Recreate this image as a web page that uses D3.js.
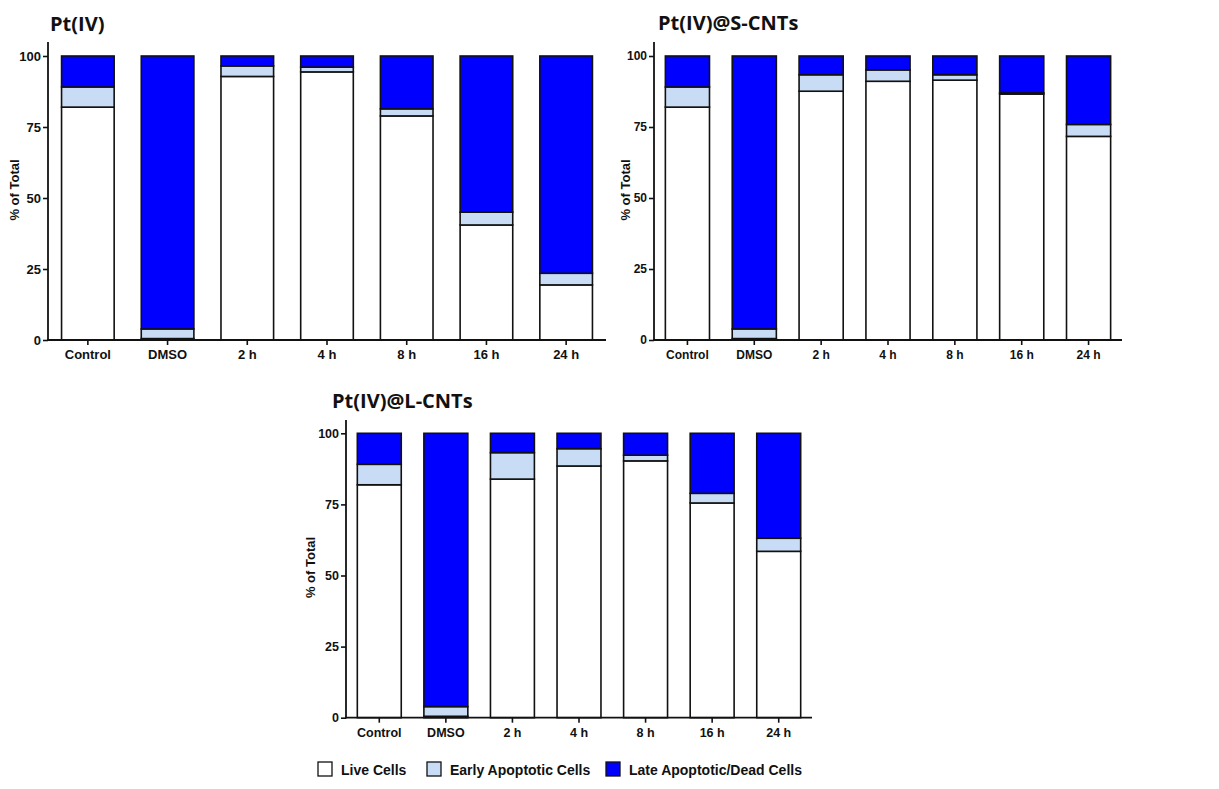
<!DOCTYPE html>
<html>
<head>
<meta charset="utf-8">
<script src="https://cdn.jsdelivr.net/npm/d3@7/dist/d3.min.js"></script>
<style>
  html, body { margin: 0; padding: 0; background: #fff; }
  svg { display: block; }
  .tick text { font-family: "Liberation Sans", Arial, sans-serif; font-weight: bold; fill: #111; }
</style>
</head>
<body>
<svg id="chart" width="1219" height="789"></svg>
<script>
// Treatment groups on the x axis
const categories = ["Control", "DMSO", "2 h", "4 h", "8 h", "16 h", "24 h"];
const seriesNames = ["Live Cells", "Early Apoptotic Cells", "Late Apoptotic/Dead Cells"];
const yTicks = [0, 25, 50, 75, 100];

// Pt(IV): % of total per population
const ptLive  = [82.0, 0.5, 92.8, 94.4, 78.9, 40.5, 19.4];
const ptEarly = [7.1, 3.4, 3.7, 1.7, 2.5, 4.5, 4.1];
const ptLate  = [10.9, 96.1, 3.5, 3.9, 18.6, 55.0, 76.5];

// Pt(IV)@S-CNTs
const sLive  = [82.0, 0.5, 87.6, 91.1, 91.5, 86.6, 71.7];
const sEarly = [7.1, 3.4, 5.8, 4.0, 1.9, 0.4, 4.2];
const sLate  = [10.9, 96.1, 6.6, 4.9, 6.6, 13.0, 24.1];

// Pt(IV)@L-CNTs
const lLive  = [81.9, 0.5, 83.9, 88.5, 90.3, 75.5, 58.5];
const lEarly = [7.2, 3.4, 9.3, 6.1, 2.0, 3.4, 4.6];
const lLate  = [10.9, 96.1, 6.8, 5.4, 7.7, 21.1, 36.9];

const colors = ["#ffffff", "#c8dcf5", "#0000ff"];
const keys = ["live", "early", "late"];

const svg = d3.select("#chart");

const panels = [
  { title: "Pt(IV)", live: ptLive, early: ptEarly, late: ptLate,
    x0: 48, x1: 606, y0: 340, y100: 56, axisTop: 42, tx: 50, ty: 31, fs: 13, ylx: 14 },
  { title: "Pt(IV)@S-CNTs", live: sLive, early: sEarly, late: sLate,
    x0: 654, x1: 1122, y0: 340, y100: 56, axisTop: 42, tx: 658, ty: 30, fs: 12, ylx: 625 },
  { title: "Pt(IV)@L-CNTs", live: lLive, early: lEarly, late: lLate,
    x0: 346, x1: 812, y0: 717.7, y100: 433.3, axisTop: 420, tx: 332, ty: 408, fs: 12.5, ylx: 310 }
];

panels.forEach(p => {
  const rows = categories.map((c, i) => ({ cat: c, live: p.live[i], early: p.early[i], late: p.late[i] }));
  const stacked = d3.stack().keys(keys)(rows);

  const x = d3.scaleBand().domain(categories).range([p.x0, p.x1])
    .paddingInner(0.34).paddingOuter(0.17);
  const y = d3.scaleLinear().domain([0, 100]).range([p.y0, p.y100]);

  const g = svg.append("g");

  // stacked bars
  stacked.forEach((layer, li) => {
    g.append("g").selectAll("rect").data(layer).join("rect")
      .attr("x", d => x(d.data.cat))
      .attr("width", x.bandwidth())
      .attr("y", d => y(d[1]))
      .attr("height", d => y(d[0]) - y(d[1]))
      .attr("fill", colors[li])
      .attr("stroke", "#111")
      .attr("stroke-width", 1.6);
  });

  // y axis
  const ya = g.append("g").attr("transform", `translate(${p.x0},0)`)
    .call(d3.axisLeft(y).tickValues(yTicks).tickSize(5).tickPadding(2));
  ya.select(".domain").remove();
  ya.selectAll(".tick line").attr("stroke", "#111").attr("stroke-width", 1.6);
  ya.selectAll(".tick text").style("font-size", p.fs + "px");
  g.append("line").attr("x1", p.x0).attr("x2", p.x0)
    .attr("y1", p.axisTop).attr("y2", p.y0 + 0.8)
    .attr("stroke", "#111").attr("stroke-width", 1.8);

  // x axis
  const xa = g.append("g").attr("transform", `translate(0,${p.y0})`)
    .call(d3.axisBottom(x).tickSize(5).tickPadding(5));
  xa.select(".domain").remove();
  xa.selectAll(".tick line").attr("stroke", "#111").attr("stroke-width", 1.6);
  xa.selectAll(".tick text").style("font-size", p.fs + "px");
  g.append("line").attr("x1", p.x0 - 0.9).attr("x2", p.x1)
    .attr("y1", p.y0).attr("y2", p.y0)
    .attr("stroke", "#111").attr("stroke-width", 1.8);

  // y axis title
  g.append("text")
    .attr("transform", `translate(${p.ylx},${(p.y0 + p.y100) / 2 - 8}) rotate(-90)`)
    .attr("text-anchor", "middle")
    .attr("dy", "0.35em")
    .style("font-family", "'Liberation Sans', Arial, sans-serif")
    .style("font-weight", "bold")
    .style("font-size", "13px")
    .attr("fill", "#111")
    .text("% of Total");

  // panel title
  g.append("text")
    .attr("x", p.tx).attr("y", p.ty)
    .style("font-family", "'Open Sans', sans-serif")
    .style("font-weight", "bold")
    .style("font-size", "20px")
    .attr("fill", "#111")
    .text(p.title);
});

// legend
const legendX = [318, 427, 606];
const lg = svg.append("g");
seriesNames.forEach((name, i) => {
  lg.append("rect")
    .attr("x", legendX[i]).attr("y", 762)
    .attr("width", 14).attr("height", 14)
    .attr("fill", colors[i]).attr("stroke", "#111").attr("stroke-width", 1.3);
  lg.append("text")
    .attr("x", legendX[i] + 23).attr("y", 775)
    .style("font-family", "'Liberation Sans', Arial, sans-serif")
    .style("font-weight", "bold")
    .style("font-size", "14px")
    .attr("fill", "#111")
    .text(name);
});
</script>
</body>
</html>
